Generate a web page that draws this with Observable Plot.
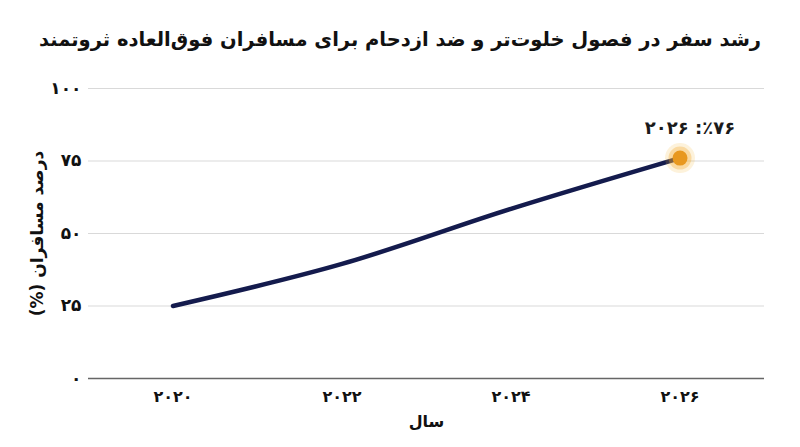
<!DOCTYPE html>
<html>
<head>
<meta charset="utf-8">
<script src="https://cdn.jsdelivr.net/npm/d3@7"></script>
<script src="https://cdn.jsdelivr.net/npm/@observablehq/plot@0.6"></script>
<style>
  html, body { margin: 0; padding: 0; background: #fff; }
  #wrap { width: 800px; height: 447px; overflow: hidden; }
  #title { height: 70px; line-height: 80px; text-align: center; direction: rtl; white-space: nowrap;
           font-family: "DejaVu Sans", sans-serif; font-weight: bold; font-size: 19.5px; color: #111; }
</style>
</head>
<body>
<div id="wrap">
  <div id="title"></div>
  <div id="chart"></div>
</div>
<script>
const chartTitle = "رشد سفر در فصول خلوت‌تر و ضد ازدحام برای مسافران فوق‌العاده ثروتمند";
const years = [2020, 2022, 2024, 2026];
const passengerShare = [25, 39.5, 58.5, 76];
const xTickLabels = ["۲۰۲۰", "۲۰۲۲", "۲۰۲۴", "۲۰۲۶"];
const yTicks = [0, 25, 50, 75, 100];
const yTickLabels = ["۰", "۲۵", "۵۰", "۷۵", "۱۰۰"];
const xLabel = "سال";
const yLabel = "درصد مسافران (%)";
const annotationText = "٪۷۶: ۲۰۲۶";

document.getElementById("title").textContent = chartTitle;

const data = years.map((year, i) => ({year, value: passengerShare[i]}));
const last = [data[data.length - 1]];

const chart = Plot.plot({
  width: 800,
  height: 377,
  marginLeft: 88,
  marginRight: 36,
  marginTop: 18,
  marginBottom: 69,
  style: {fontFamily: "DejaVu Sans", fontSize: "16px", fontWeight: "bold", color: "#111", background: "white"},
  x: {domain: [2019, 2027]},
  y: {domain: [0, 100]},
  marks: [
    Plot.gridY(yTicks.slice(1), {stroke: "#d9d9d9", strokeOpacity: 1, strokeWidth: 1}),
    Plot.ruleY([0], {stroke: "#666", strokeWidth: 1.5}),
    Plot.axisY(yTicks, {
      tickFormat: (d) => yTickLabels[yTicks.indexOf(d)],
      tickSize: 0, tickPadding: 7, fontSize: 17, fontWeight: "bold",
      label: yLabel, labelAnchor: "center", labelOffset: 58, labelArrow: "none"
    }),
    Plot.axisX(years, {
      tickFormat: (d) => xTickLabels[years.indexOf(d)],
      tickSize: 0, tickPadding: 12, fontSize: 16, fontWeight: "bold",
      label: xLabel, labelAnchor: "center", labelOffset: 48, labelArrow: "none"
    }),
    Plot.line(data, {x: "year", y: "value", stroke: "#141b4d", strokeWidth: 4.5, curve: "monotone-x", strokeLinecap: "round"}),
    Plot.dot(last, {x: "year", y: "value", r: 15, fill: "#f5b53a", fillOpacity: 0.18, stroke: "none"}),
    Plot.dot(last, {x: "year", y: "value", r: 11.5, fill: "#f3ad33", fillOpacity: 0.35, stroke: "none"}),
    Plot.dot(last, {x: "year", y: "value", r: 7.5, fill: "#e8981f", stroke: "none"}),
    Plot.text(last, {x: "year", y: "value", text: () => "\u2067" + annotationText + "\u2069", dx: 10, dy: -30,
      fontSize: 18, fontWeight: "bold", fill: "#1a1a1a", ariaLabel: "annotation"})
  ]
});

chart.querySelectorAll('[aria-label="y-axis label"] text, [aria-label="x-axis label"] text, [aria-label="annotation"] text')
  .forEach((t) => {
    t.setAttribute("direction", "rtl");
    t.style.direction = "rtl";
  });

document.getElementById("chart").appendChild(chart);
</script>
</body>
</html>
